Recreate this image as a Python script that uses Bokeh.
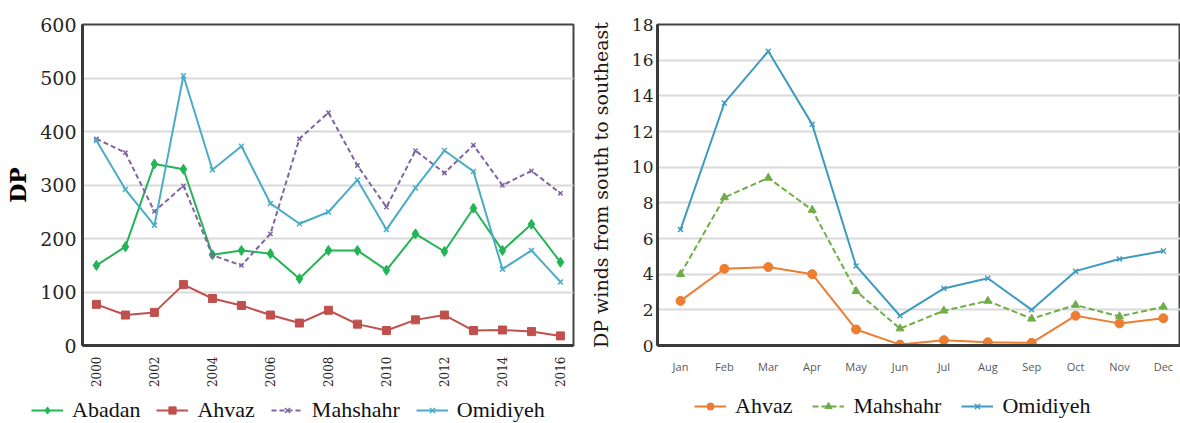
import math
from bokeh.plotting import figure
from bokeh.layouts import row, column
from bokeh.models import Legend, LegendItem, FixedTicker, Range1d
from bokeh.embed import file_html
from bokeh.resources import INLINE

# ---------------- data: annual DP (left) ----------------
years = list(range(2000, 2017))
abadan_y = [150, 185, 340, 330, 170, 178, 172, 125, 178, 178, 141, 209, 176, 257, 178, 227, 156]
ahvaz_y = [77, 57, 62, 114, 88, 75, 57, 42, 66, 40, 28, 48, 57, 28, 29, 26, 18]
mahshahr_y = [387, 361, 251, 299, 169, 150, 209, 387, 436, 337, 259, 365, 323, 375, 300, 327, 285]
omidiyeh_y = [384, 292, 225, 505, 329, 373, 266, 228, 250, 310, 217, 295, 365, 326, 143, 178, 119]
year_ticks = [2000, 2002, 2004, 2006, 2008, 2010, 2012, 2014, 2016]
left_y_ticks = [0, 100, 200, 300, 400, 500, 600]

# ---------------- data: monthly DP S-SE winds (right) ----------------
months = ["Jan", "Feb", "Mar", "Apr", "May", "Jun", "Jul", "Aug", "Sep", "Oct", "Nov", "Dec"]
ahvaz_m = [2.5, 4.3, 4.4, 4.0, 0.9, 0.05, 0.3, 0.18, 0.15, 1.67, 1.24, 1.53]
mahshahr_m = [4.0, 8.3, 9.4, 7.6, 3.05, 0.95, 1.95, 2.5, 1.5, 2.27, 1.63, 2.17]
omidiyeh_m = [6.5, 13.6, 16.5, 12.4, 4.46, 1.67, 3.2, 3.77, 2.0, 4.17, 4.85, 5.3]
right_y_ticks = list(range(0, 19, 2))

SERIF = "DejaVu Serif"
LEG_FONT = "Liberation Serif"
TICK_COLOR = "#262626"
GRID = "#d9d9d9"
FRAME = "#444444"


def style(p):
    p.outline_line_color = FRAME
    p.outline_line_width = 2
    p.xgrid.grid_line_color = None
    p.ygrid.grid_line_color = GRID
    p.ygrid.grid_line_width = 2
    for ax in (p.xaxis[0], p.yaxis[0]):
        ax.axis_line_color = "#3a3a3a"
        ax.axis_line_width = 3
        ax.major_tick_line_color = None
        ax.minor_tick_line_color = None
        ax.major_tick_out = 0
        ax.major_tick_in = 0


def add_series(p, x, y, spec):
    color, marker, size, dash = spec
    kw = dict(line_color=color, line_width=2)
    if dash:
        kw["line_dash"] = dash
    l = p.line(x, y, **kw)
    if marker == "x":
        s = p.scatter(x, y, marker="x", size=size, line_color=color, line_width=1.5)
    else:
        s = p.scatter(x, y, marker=marker, size=size, fill_color=color, line_color=color)
    return [l, s]


# ---------------- left figure ----------------
p1 = figure(width=585, height=390, x_range=Range1d(1999.52, 2016.45), y_range=Range1d(0, 601),
            output_backend="svg", toolbar_location=None,
            min_border_left=82, min_border_right=12, min_border_top=18, min_border_bottom=44)
style(p1)
p1.xaxis.ticker = FixedTicker(ticks=year_ticks)
p1.yaxis.ticker = FixedTicker(ticks=left_y_ticks)
p1.ygrid.ticker = FixedTicker(ticks=left_y_ticks[1:-1])
p1.xaxis.major_label_orientation = math.pi / 2
p1.xaxis.major_label_text_font = SERIF
p1.xaxis.major_label_text_font_size = "12px"
p1.xaxis.major_label_text_color = TICK_COLOR
p1.xaxis.major_label_standoff = 11
p1.yaxis.major_label_text_font = SERIF
p1.yaxis.major_label_text_font_size = "19px"
p1.yaxis.major_label_text_color = TICK_COLOR
p1.yaxis.major_label_standoff = 6
p1.yaxis.axis_label = "DP"
p1.yaxis.axis_label_text_font = SERIF
p1.yaxis.axis_label_text_font_style = "bold"
p1.yaxis.axis_label_text_font_size = "22px"
p1.yaxis.axis_label_text_color = "#000000"
p1.yaxis.axis_label_standoff = 6

left_names = ["Abadan", "Ahvaz", "Mahshahr", "Omidiyeh"]
left_series = [abadan_y, ahvaz_y, mahshahr_y, omidiyeh_y]
left_specs = [("#22b455", "diamond", 10, None), ("#c0504d", "square", 8, None),
              ("#8064a2", "x", 6, "5 3"), ("#4bacc6", "x", 7, None)]
for yv, sp in zip(left_series, left_specs):
    add_series(p1, years, yv, sp)

# ---------------- right figure ----------------
mx = list(range(12))
p2 = figure(width=595, height=390, x_range=Range1d(-0.524, 11.39), y_range=Range1d(0, 18),
            output_backend="svg", toolbar_location=None,
            min_border_left=72, min_border_right=0, min_border_top=24, min_border_bottom=35)
style(p2)
p2.xaxis.ticker = FixedTicker(ticks=mx)
p2.xaxis.major_label_overrides = {i: m for i, m in enumerate(months)}
p2.xaxis.major_label_text_font = "Open Sans"
p2.xaxis.major_label_text_font_size = "11px"
p2.xaxis.major_label_text_color = "#595959"
p2.xaxis.major_label_standoff = 13
p2.yaxis.ticker = FixedTicker(ticks=right_y_ticks)
p2.ygrid.ticker = FixedTicker(ticks=right_y_ticks[1:-1])
p2.yaxis.major_label_text_font = SERIF
p2.yaxis.major_label_text_font_size = "17px"
p2.yaxis.major_label_text_color = TICK_COLOR
p2.yaxis.major_label_standoff = 4
p2.yaxis.axis_label = "DP winds from south to southeast"
p2.yaxis.axis_label_text_font = SERIF
p2.yaxis.axis_label_text_font_style = "normal"
p2.yaxis.axis_label_text_font_size = "19px"
p2.yaxis.axis_label_text_color = "#1a1a1a"
p2.yaxis.axis_label_standoff = 17

right_names = ["Ahvaz", "Mahshahr", "Omidiyeh"]
right_series = [ahvaz_m, mahshahr_m, omidiyeh_m]
right_specs = [("#ed7d31", "circle", 9, None), ("#70ad47", "triangle", 8, "6 3"),
               ("#3e9bbf", "x", 7, None)]
for yv, sp in zip(right_series, right_specs):
    add_series(p2, mx, yv, sp)

# ---------------- legend strip (series drawn off-range; only the legends show) ----------------
lf = figure(width=1180, height=33, x_range=Range1d(-10, -9), y_range=Range1d(-10, -9),
            output_backend="svg", toolbar_location=None,
            x_axis_location=None, y_axis_location=None, min_border=0)
lf.outline_line_color = None
lf.xgrid.visible = False
lf.ygrid.visible = False


def make_legend(names, series, specs, x, loc, glyph_width, standoff, spacing):
    items = [LegendItem(label=n, renderers=add_series(lf, x, yv, sp))
             for n, yv, sp in zip(names, series, specs)]
    lf.add_layout(Legend(items=items, orientation="horizontal", location=loc,
                         label_text_font=LEG_FONT, label_text_font_size="22px",
                         label_text_color="#111111", glyph_width=glyph_width, glyph_height=18,
                         label_standoff=standoff, spacing=spacing, padding=1, margin=0,
                         border_line_color=None, background_fill_alpha=0), "center")


make_legend(left_names, left_series, left_specs, years, (31, 0), 32, 9, 16)
make_legend(right_names, right_series, right_specs, mx, (694, 4), 32, 9, 20)

layout = column(row(p1, p2), lf)
open("out.html", "w").write(file_html(layout, INLINE))
